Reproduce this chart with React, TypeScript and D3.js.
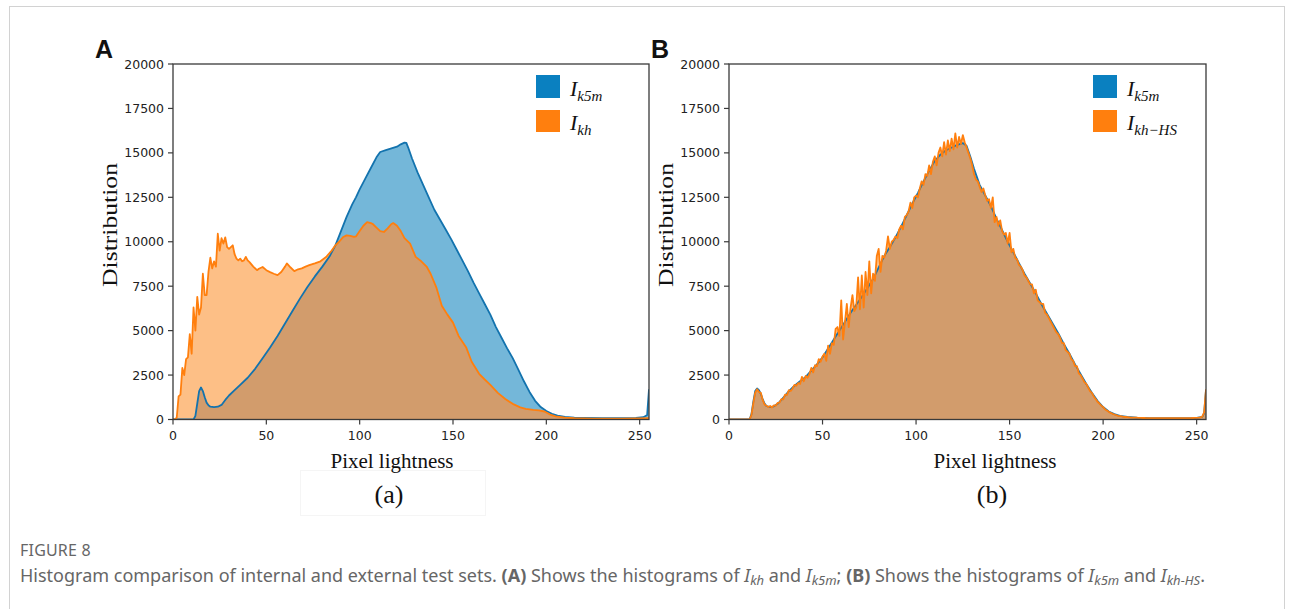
import React from 'react';
import * as d3 from 'd3';

// axis ticks
const xTicks = [0, 50, 100, 150, 200, 250];
const yTicks = [0, 2500, 5000, 7500, 10000, 12500, 15000, 17500, 20000];

// panel A, I_k5m (smooth)
const k5mAX = [0, 11, 12, 13, 14, 15, 16, 17, 18, 19, 20, 22, 24, 26, 28, 30, 33, 36, 40, 44, 48, 52, 56, 60, 64, 68, 72, 76, 80, 84, 87, 90, 93, 96, 98, 100, 103, 106, 109, 111, 114, 117, 120, 122, 124, 125, 126, 128, 131, 134, 137, 140, 143, 146, 149, 152, 155, 158, 161, 164, 167, 170, 173, 176, 179, 182, 185, 188, 191, 194, 197, 200, 203, 206, 210, 215, 220, 230, 240, 248, 252, 254, 255];
const k5mAV = [0, 0, 200, 900, 1600, 1800, 1600, 1250, 950, 800, 720, 700, 720, 820, 1100, 1350, 1650, 1950, 2350, 2850, 3450, 4050, 4700, 5400, 6100, 6800, 7450, 8050, 8600, 9200, 9800, 10600, 11400, 12100, 12500, 12950, 13550, 14150, 14750, 15050, 15150, 15250, 15350, 15480, 15580, 15560, 15300, 14700, 13900, 13200, 12500, 11800, 11250, 10700, 10150, 9550, 8950, 8350, 7700, 7100, 6500, 5900, 5200, 4600, 4000, 3450, 2800, 2150, 1550, 1050, 700, 480, 320, 220, 150, 110, 90, 70, 70, 90, 130, 250, 1700];

// panel A, I_kh
const khAX = [0, 1, 2, 3, 4, 5, 6, 7, 8, 9, 10, 11, 12, 13, 14, 15, 16, 17, 18, 19, 20, 21, 22, 23, 24, 25, 26, 27, 28, 29, 30, 31, 32, 33, 34, 35, 36, 37, 38, 39, 40, 41, 43, 45, 46, 48, 50, 52, 54, 56, 58, 60, 61, 63, 65, 67, 69, 71, 73, 76, 79, 82, 85, 87, 89, 91, 93, 95, 97, 98, 100, 102, 104, 106, 107, 109, 111, 113, 115, 117, 118, 120, 122, 124, 127, 130, 133, 136, 138, 141, 144, 147, 150, 153, 157, 160, 164, 167, 170, 174, 178, 182, 186, 189, 193, 196, 199, 202, 205, 210, 215, 225, 240, 250, 254, 255];
const khAV = [0, 0, 100, 1300, 1400, 2900, 2500, 3400, 3500, 4800, 3700, 6300, 5000, 6900, 5900, 6300, 8200, 7000, 7000, 8300, 9100, 8500, 8900, 8600, 10450, 9500, 10200, 9900, 10250, 9700, 9600, 9700, 9800, 9300, 9050, 8950, 9050, 8900, 8950, 9150, 8950, 8850, 8600, 8400, 8480, 8580, 8400, 8290, 8200, 8120, 8300, 8600, 8780, 8550, 8350, 8450, 8500, 8600, 8680, 8780, 8900, 9140, 9500, 9800, 10000, 10250, 10360, 10330, 10280, 10300, 10600, 10900, 11100, 11050, 11000, 10800, 10600, 10550, 10750, 11000, 11050, 10900, 10600, 10200, 9900, 9150, 8900, 8580, 8200, 7450, 6400, 5900, 5450, 4700, 4070, 3250, 2570, 2250, 1950, 1500, 1150, 880, 680, 600, 540, 510, 450, 280, 180, 100, 70, 50, 50, 60, 70, 100];

// panel B, I_k5m (smooth)
const k5mBX = [0, 11, 12, 13, 14, 15, 16, 17, 18, 19, 20, 22, 24, 26, 28, 30, 32, 35, 38, 41, 44, 47, 50, 53, 56, 59, 62, 65, 68, 71, 74, 77, 80, 83, 86, 89, 92, 95, 98, 101, 104, 107, 110, 113, 116, 119, 122, 125, 127, 129, 131, 134, 137, 140, 143, 146, 149, 152, 155, 158, 161, 164, 167, 170, 173, 176, 179, 182, 185, 188, 191, 194, 197, 200, 203, 206, 209, 213, 218, 225, 235, 245, 250, 253, 254, 255];
const k5mBV = [0, 0, 300, 1000, 1600, 1750, 1650, 1450, 1150, 900, 760, 700, 740, 880, 1100, 1350, 1600, 1900, 2150, 2400, 2750, 3100, 3500, 4000, 4500, 5000, 5500, 6000, 6450, 6900, 7400, 7900, 8550, 9200, 9700, 10250, 10850, 11500, 12150, 12750, 13400, 14000, 14550, 14900, 15150, 15300, 15450, 15550, 15400, 14800, 14100, 13200, 12600, 12000, 11300, 10650, 10000, 9400, 8800, 8200, 7650, 7100, 6500, 5950, 5400, 4850, 4250, 3700, 3100, 2550, 2000, 1500, 1050, 700, 450, 300, 200, 140, 100, 80, 70, 75, 90, 150, 350, 1650];

// panel B, I_kh-HS, one value per lightness level 0..255
const khHSB = [
  0, 0, 0, 0, 0, 0, 0, 0, 0, 0,
  0, 0, 250, 900, 1500, 1700, 1550, 1500, 1100, 850,
  780, 700, 760, 680, 800, 780, 930, 950, 1150, 1130,
  1400, 1380, 1650, 1600, 1750, 1950, 1900, 2050, 2000, 2400,
  2150, 2450, 2350, 2550, 2900, 2650, 3050, 3000, 3400, 3250,
  3550, 3700, 3300, 4150, 3700, 4300, 4200, 5100, 5200, 4700,
  6700, 4500, 5500, 6500, 5200, 6300, 7000, 6100, 6300, 8000,
  6200, 8100, 6300, 8300, 7000, 8900, 7100, 8200, 7800, 9200,
  9600, 8300, 9200, 9100, 9500, 10300, 9600, 10000, 10100, 10300,
  10200, 10700, 10900, 10700, 11400, 11500, 11700, 12200, 11900, 12500,
  12600, 12500, 13000, 13400, 13200, 13800, 13700, 14300, 13800, 14500,
  14800, 14300, 15000, 15300, 14800, 15600, 14900, 15700, 15100, 15800,
  15200, 16100, 15300, 15900, 15500, 16000, 15600, 15300, 15000, 14700,
  14300, 13800, 13500, 13400, 13100, 12800, 13000, 12600, 12300, 12400,
  11900, 12500, 11100, 11400, 10900, 11200, 10600, 10400, 10500, 9900,
  10500, 9400, 9600, 9100, 9000, 8700, 8600, 8400, 8100, 8000,
  7800, 7600, 7600, 7100, 7300, 6700, 6600, 6500, 6500, 6000,
  5900, 5700, 5500, 5300, 5100, 4900, 4800, 4600, 4300, 4300,
  3900, 3800, 3700, 3400, 3300, 3000, 3000, 2600, 2500, 2300,
  2100, 2000, 1800, 1600, 1500, 1300, 1150, 1000, 900, 780,
  700, 580, 500, 430, 370, 320, 280, 240, 210, 190,
  170, 150, 140, 130, 120, 110, 110, 100, 100, 95,
  90, 85, 85, 80, 80, 80, 75, 75, 75, 75,
  70, 70, 70, 70, 70, 70, 70, 70, 70, 70,
  70, 70, 70, 75, 75, 75, 80, 80, 85, 90,
  95, 100, 120, 160, 400, 1700,
];

type Pt = [number, number];
const zip = (xs: number[], vs: number[]): Pt[] => xs.map((x, i) => [x, vs[i]]);

const BLUE_LINE = '#1373ae';
const ORANGE_LINE = '#ff7f0e';
const BLUE_FILL = '#74b7d9';
const ORANGE_FILL = '#fdbf86';
const MIX_FILL = '#d29c6c';
const AXIS = '#3a3a3a';
const TICK_FONT = '"DejaVu Sans", sans-serif';
const SERIF = '"Liberation Serif", "Times New Roman", serif';

interface PanelProps {
  id: string;
  left: number;
  right: number;
  labelX: number;
  blue: Pt[];
  orange: Pt[];
  letter: string;
  sub: string;
  orangeName: string;
}

const TOP = 64;
const BOTTOM = 419.5;

const Panel: React.FC<PanelProps> = ({ id, left, right, labelX, blue, orange, letter, sub, orangeName }) => {
  const x = d3.scaleLinear().domain([0, 255]).range([left, right]);
  const y = d3.scaleLinear().domain([0, 20000]).range([BOTTOM, TOP]);

  const area = d3.area<Pt>().x(d => x(d[0])).y0(y(0)).y1(d => y(d[1]));
  const line = d3.line<Pt>().x(d => x(d[0])).y(d => y(d[1]));
  const legX = right - 113;

  return (
    <g>
      <defs>
        <clipPath id={`axes-${id}`}>
          <rect x={left} y={TOP} width={right - left} height={BOTTOM - TOP} />
        </clipPath>
        <clipPath id={`blue-${id}`}>
          <path d={area(blue) || ''} />
        </clipPath>
      </defs>
      <g clipPath={`url(#axes-${id})`}>
        <path d={area(blue) || ''} fill={BLUE_FILL} />
        <path d={area(orange) || ''} fill={ORANGE_FILL} />
        <path d={area(orange) || ''} fill={MIX_FILL} clipPath={`url(#blue-${id})`} />
        <path d={line(blue) || ''} fill="none" stroke={BLUE_LINE} strokeWidth={1.8} strokeLinejoin="round" />
        <path d={line(orange) || ''} fill="none" stroke={ORANGE_LINE} strokeWidth={1.8} strokeLinejoin="round" />
      </g>

      {/* frame */}
      <rect x={left} y={TOP} width={right - left} height={BOTTOM - TOP} fill="none" stroke={AXIS} strokeWidth={1.3} />

      {/* y ticks */}
      {yTicks.map(t => (
        <g key={`y${t}`}>
          <line x1={left - 5} x2={left} y1={y(t)} y2={y(t)} stroke={AXIS} strokeWidth={1.2} />
          <text x={left - 9} y={y(t)} dy="0.36em" textAnchor="end" fontFamily={TICK_FONT} fontSize={12.5} fill="#222">{t}</text>
        </g>
      ))}
      {/* x ticks */}
      {xTicks.map(t => (
        <g key={`x${t}`}>
          <line x1={x(t)} x2={x(t)} y1={BOTTOM} y2={BOTTOM + 5} stroke={AXIS} strokeWidth={1.2} />
          <text x={x(t)} y={BOTTOM + 20} textAnchor="middle" fontFamily={TICK_FONT} fontSize={12.5} fill="#222">{t}</text>
        </g>
      ))}

      <text x={labelX} y={468} textAnchor="middle" fontFamily={SERIF} fontSize={21} fill="#111">Pixel lightness</text>
      <text x={labelX - 3} y={503} textAnchor="middle" fontFamily={SERIF} fontSize={26} fill="#111">{sub}</text>
      <text transform={`translate(${left - 56},225) rotate(-90)`} textAnchor="middle" fontFamily={SERIF} fontSize={21}
        textLength={124} lengthAdjust="spacingAndGlyphs" fill="#111">Distribution</text>

      <text x={left - 78} y={58} fontFamily='"Liberation Sans", Arial, sans-serif' fontWeight="bold" fontSize={25} fill="#111">{letter}</text>

      {/* legend */}
      <rect x={legX} y={75} width={24} height={23} fill="#0a80c0" />
      <rect x={legX} y={110} width={24} height={22} fill={ORANGE_LINE} />
      <text x={legX + 34} y={96} fontFamily={SERIF} fontStyle="italic" fill="#111">
        <tspan fontSize={22}>I</tspan><tspan fontSize={15} dy={5}>k5m</tspan>
      </text>
      <text x={legX + 34} y={130} fontFamily={SERIF} fontStyle="italic" fill="#111">
        <tspan fontSize={22}>I</tspan><tspan fontSize={15} dy={5}>{orangeName}</tspan>
      </text>
    </g>
  );
};

const CAP_FONT = '"Noto Sans", "Open Sans", sans-serif';

export default function App() {
  const blueA = zip(k5mAX, k5mAV);
  const orangeA = zip(khAX, khAV);
  const blueB = zip(k5mBX, k5mBV);
  const orangeB: Pt[] = khHSB.map((v, i) => [i, v]);

  return (
    <svg width={1295} height={609} style={{ position: 'absolute', left: 0, top: 0, background: '#fff' }}>
      <rect x={9.5} y={6.5} width={1275} height={640} fill="none" stroke="#d2d2d2" strokeWidth={1} />
      <rect x={300.5} y={470.5} width={185} height={45} fill="none" stroke="#f5f5f5" strokeWidth={1} />

      <Panel id="a" left={173} right={649} labelX={392} blue={blueA} orange={orangeA} letter="A" sub="(a)" orangeName="kh" />
      <Panel id="b" left={729} right={1206} labelX={995} blue={blueB} orange={orangeB} letter="B" sub="(b)" orangeName="kh−HS" />

      <text x={20} y={556} fontFamily={CAP_FONT} fontSize={16} fill="#666" letterSpacing={0.2}>FIGURE 8</text>
      <text x={20} y={582} fontFamily={CAP_FONT} fontSize={18} fill="#666">
        Histogram comparison of internal and external test sets. <tspan fontWeight="bold">(A)</tspan> Shows the histograms of{' '}
        <tspan fontStyle="italic">I</tspan><tspan fontStyle="italic" fontSize={13} dy={3}>kh</tspan>
        <tspan dy={-3}> and </tspan>
        <tspan fontStyle="italic">I</tspan><tspan fontStyle="italic" fontSize={13} dy={3}>k5m</tspan>
        <tspan dy={-3}>; </tspan><tspan fontWeight="bold">(B)</tspan> Shows the histograms of{' '}
        <tspan fontStyle="italic">I</tspan><tspan fontStyle="italic" fontSize={13} dy={3}>k5m</tspan>
        <tspan dy={-3}> and </tspan>
        <tspan fontStyle="italic">I</tspan><tspan fontStyle="italic" fontSize={13} dy={3}>kh−HS</tspan>
        <tspan dy={-3}>.</tspan>
      </text>
    </svg>
  );
}
